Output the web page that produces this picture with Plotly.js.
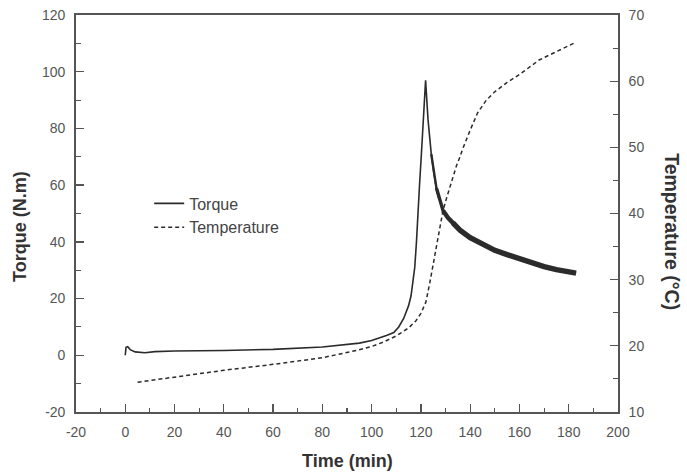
<!DOCTYPE html>
<html>
<head>
<meta charset="utf-8">
<script src="https://cdn.plot.ly/plotly-3.0.1.min.js"></script>
<style>
  html, body { margin: 0; padding: 0; background: #fff; }
  #chart { width: 687px; height: 475px; }
</style>
</head>
<body>
<div id="chart"></div>
<script>
// Torque trace (left axis), time in minutes
const torqueTime = [0, 0.3, 1, 2, 4, 8, 12, 20, 40, 60, 80, 90, 95, 100, 103, 106, 109, 111, 113, 115, 116, 116.8, 117.5, 118.2, 118.8, 119.5, 120.2, 121.1, 121.9, 122.9, 124.2, 125.3, 126.3, 127.5, 129, 131, 133, 136, 140, 145, 150, 155, 160, 165, 170, 175, 180, 183];
const torqueValues = [0, 2.8, 3, 2, 1.2, 0.9, 1.3, 1.5, 1.7, 2.1, 2.9, 3.7, 4.3, 5.2, 6, 7, 8, 10, 13, 17.5, 21, 25.5, 31, 40, 52, 61, 71, 86, 97, 83, 71, 64, 59, 55, 51, 48.5, 46.7, 44, 41.5, 39, 37, 35.5, 34, 32.5, 31.3, 30.2, 29.4, 29];

// Temperature trace (right axis)
const tempTime = [5, 20, 40, 60, 80, 95, 100, 105, 110, 115, 118, 120, 122, 123.6, 125, 126.8, 129, 130.4, 132.5, 134.5, 135.8, 137, 140, 143, 146.5, 150, 155, 160, 168, 175, 183];
const tempValues = [14.5, 15.3, 16.3, 17.2, 18.2, 19.4, 19.9, 20.6, 21.5, 22.7, 23.8, 24.9, 26.6, 29.5, 32.5, 36, 40.5, 42.3, 45, 47.3, 48.5, 49.8, 52.6, 55.2, 57.1, 58.4, 59.8, 61, 63.2, 64.5, 65.9];

// Tick labels with an ASCII hyphen for negatives
const timeTicks = [-20, 0, 20, 40, 60, 80, 100, 120, 140, 160, 180, 200];
const torqueTicks = [-20, 0, 20, 40, 60, 80, 100, 120];
const tempTicks = [10, 20, 30, 40, 50, 60, 70];
const label = v => String(v);

const FONT = 'Liberation Sans, Arial, Helvetica, sans-serif';
const INK = '#2b2b2b';
const AXIS = '#555';
const TICKTXT = '#555';

// After the peak the torque signal gets noisy; that part is drawn as
// progressively broader strokes over the same data.
function torqueSegment(t0, t1, width) {
  const xs = [], ys = [];
  torqueTime.forEach((t, i) => {
    if (t >= t0 && t <= t1) { xs.push(t); ys.push(torqueValues[i]); }
  });
  return {
    x: xs, y: ys, type: 'scatter', mode: 'lines', showlegend: false,
    line: { color: INK, width: width }, xaxis: 'x', yaxis: 'y', hoverinfo: 'skip'
  };
}

const traces = [
  {
    x: torqueTime, y: torqueValues, name: 'Torque',
    type: 'scatter', mode: 'lines',
    line: { color: INK, width: 1.6 },
    xaxis: 'x', yaxis: 'y'
  },
  torqueSegment(124.2, 127.5, 2.4),
  torqueSegment(126.3, 131, 3.4),
  torqueSegment(129, 136, 4.4),
  torqueSegment(133, 183, 5.4),
  {
    x: tempTime, y: tempValues, name: 'Temperature',
    type: 'scatter', mode: 'lines',
    line: { color: INK, width: 1.5, dash: '4px,3px' },
    xaxis: 'x', yaxis: 'y2'
  }
];

const layout = {
  width: 687, height: 475,
  margin: { l: 76, r: 69, t: 15, b: 63, pad: 0 },
  paper_bgcolor: '#fff', plot_bgcolor: '#fff',
  font: { family: FONT, color: TICKTXT, size: 14 },
  showlegend: true,
  legend: {
    x: 0.135, y: 0.568, xanchor: 'left', yanchor: 'top',
    bgcolor: 'rgba(0,0,0,0)', borderwidth: 0,
    font: { family: FONT, size: 16, color: '#444' },
    traceorder: 'normal', tracegroupgap: 0
  },
  xaxis: {
    range: [-20, 200], tickvals: timeTicks, ticktext: timeTicks.map(label),
    ticks: 'inside', ticklen: 8, tickwidth: 1.3, tickcolor: AXIS,
    minor: { dtick: 10, tick0: 0, ticks: 'inside', ticklen: 4, tickwidth: 1.1, tickcolor: AXIS },
    showline: true, linecolor: AXIS, linewidth: 1.8, mirror: true,
    showgrid: false, zeroline: false,
    tickfont: { size: 14, color: TICKTXT }, ticklabelstandoff: 6
  },
  yaxis: {
    range: [-20, 120], tickvals: torqueTicks, ticktext: torqueTicks.map(label),
    ticks: 'inside', ticklen: 8, tickwidth: 1.3, tickcolor: AXIS,
    minor: { dtick: 10, tick0: 0, ticks: 'inside', ticklen: 5, tickwidth: 1.1, tickcolor: AXIS },
    showline: true, linecolor: AXIS, linewidth: 1.8,
    showgrid: false, zeroline: false,
    tickfont: { size: 14, color: TICKTXT }, ticklabelstandoff: 6
  },
  yaxis2: {
    overlaying: 'y', side: 'right', anchor: 'x',
    range: [10, 70], tickvals: tempTicks, ticktext: tempTicks.map(label),
    ticks: 'inside', ticklen: 8, tickwidth: 1.3, tickcolor: AXIS,
    minor: { dtick: 5, tick0: 10, ticks: 'inside', ticklen: 5, tickwidth: 1.1, tickcolor: AXIS },
    showline: true, linecolor: AXIS, linewidth: 1.8,
    showgrid: false, zeroline: false,
    tickfont: { size: 14, color: TICKTXT }, ticklabelstandoff: 6
  },
  annotations: [
    {
      text: '<b>Time (min)</b>', xref: 'paper', yref: 'paper',
      x: 0.5, y: -0.1234, xanchor: 'center', yanchor: 'middle', showarrow: false,
      font: { family: FONT, size: 18, color: '#333' }
    },
    {
      text: '<b>Torque (N.m)</b>', xref: 'paper', yref: 'paper',
      x: -0.1033, y: 0.466, xanchor: 'center', yanchor: 'middle', showarrow: false,
      textangle: -90, font: { family: FONT, size: 18, color: '#333' }
    },
    {
      text: '<b>Temperature (°C)</b>', xref: 'paper', yref: 'paper',
      x: 1.0996, y: 0.453, xanchor: 'center', yanchor: 'middle', showarrow: false,
      textangle: 90, font: { family: FONT, size: 19.5, color: '#333' }
    }
  ]
};

Plotly.newPlot('chart', traces, layout, { staticPlot: true, displayModeBar: false });
</script>
</body>
</html>
